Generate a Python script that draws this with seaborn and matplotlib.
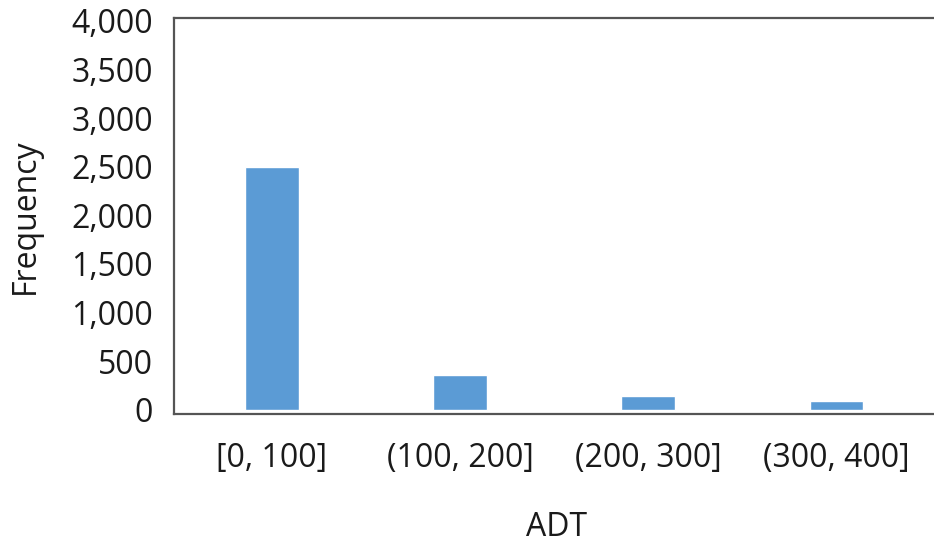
import numpy as np
import pandas as pd
import seaborn as sns
import matplotlib.pyplot as plt

bins = ['[0, 100]', '(100, 200]', '(200, 300]', '(300, 400]']
freq = [2500, 360, 135, 90]

df = pd.DataFrame({'ADT': bins, 'Frequency': freq})

sns.set_style('white')
plt.rcParams['font.family'] = ['Open Sans', 'DejaVu Sans']

fig = plt.figure(figsize=(9.34, 5.43), dpi=100)
ax = fig.add_axes([0.1863, 0.2376, 0.82, 0.7293])

sns.barplot(data=df, x='ADT', y='Frequency', color='#5B9BD5', width=0.285,
            saturation=1, ax=ax)

ax.set_ylim(-45, 4030)
ax.set_xlim(-0.52, 3.55)
ax.set_yticks(np.arange(0, 4001, 500))
ax.set_yticklabels([f'{v:,}' for v in range(0, 4001, 500)])

fontsize = 23
ax.tick_params(axis='both', length=0, labelsize=fontsize, labelcolor='#1a1a1a')
ax.tick_params(axis='y', pad=15)
ax.tick_params(axis='x', pad=20)
ax.set_xlabel('ADT', fontsize=fontsize, labelpad=26, color='#1a1a1a')
ax.set_ylabel('Frequency', fontsize=fontsize, labelpad=21, color='#1a1a1a')

for side in ['left', 'bottom', 'top', 'right']:
    ax.spines[side].set_color('#555555')
    ax.spines[side].set_linewidth(1.6)

fig.savefig('out.png', dpi=100)
